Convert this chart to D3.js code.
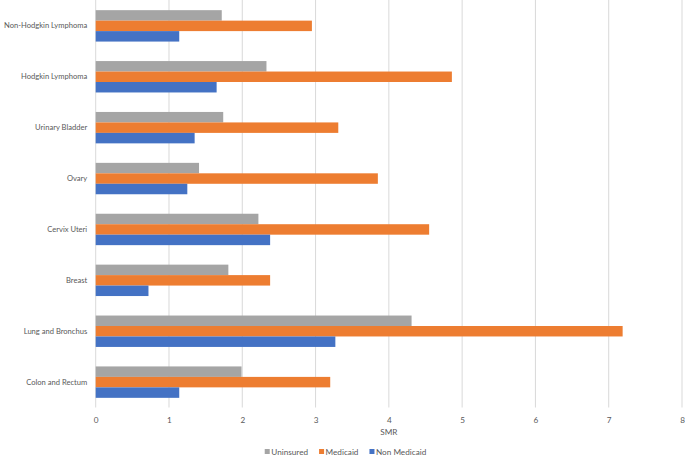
<!DOCTYPE html>
<html><head><meta charset="utf-8">
<script src="https://cdn.jsdelivr.net/npm/d3@7"></script>
<style>body{margin:0;background:#fff}svg{display:block}text{font-family:Lato,"Liberation Sans",Arial,sans-serif;fill:#595959}</style>
</head><body><svg id="c" width="685" height="456"></svg>
<script>
const categories = ["Non-Hodgkin Lymphoma","Hodgkin Lymphoma","Urinary Bladder","Ovary","Cervix Uteri","Breast","Lung and Bronchus","Colon and Rectum"];
const seriesNames = ["Uninsured","Medicaid","Non Medicaid"];
const uninsured = [1.72,2.33,1.74,1.41,2.22,1.81,4.31,1.99];
const medicaid = [2.95,4.86,3.31,3.85,4.55,2.38,7.19,3.20];
const nonMedicaid = [1.14,1.65,1.35,1.25,2.38,0.72,3.27,1.14];
const xTicks = [0,1,2,3,4,5,6,7,8];
const colors = ["#A5A5A5","#ED7D31","#4472C4"];

const FONT = 'Lato,"Liberation Sans",Arial,sans-serif';
const FS = "8.2px";
const values = [uninsured, medicaid, nonMedicaid];
const svg = d3.select("#c");
const mLeft = 95.7, mRight = 682, mTop = 0.5, mBottom = 407.5;
const x = d3.scaleLinear().domain([0,8]).range([mLeft,mRight]);
const y = d3.scaleBand().domain(categories).range([mTop,mBottom]).paddingInner(0.383).paddingOuter(0.19);
const ys = d3.scaleBand().domain(seriesNames).range([0,y.bandwidth()]);

svg.append("g").selectAll("line").data(xTicks).join("line")
  .attr("x1",d=>x(d)).attr("x2",d=>x(d)).attr("y1",0).attr("y2",mBottom)
  .attr("stroke","#d9d9d9").attr("stroke-width",1);

const g = svg.append("g");
seriesNames.forEach((s,si)=>{
  g.append("g").selectAll("rect").data(categories).join("rect")
    .attr("x",x(0)).attr("y",(c)=>y(c)+ys(s))
    .attr("width",(c,i)=>x(values[si][i])-x(0)).attr("height",ys.bandwidth())
    .attr("fill",colors[si]);
});

const xAxis = d3.axisBottom(x).tickValues(xTicks).tickSize(0).tickPadding(0);
const ax = svg.append("g").attr("transform",`translate(0,${mBottom+15})`).call(xAxis);
ax.select(".domain").remove();
ax.selectAll("text").attr("font-size",FS).attr("fill","#595959").attr("dy","0").style("font-family",FONT);

const yAxis = d3.axisLeft(y).tickSize(0).tickPadding(8.5);
const ay = svg.append("g").attr("transform",`translate(${mLeft},0)`).call(yAxis);
ay.select(".domain").remove();
const yTexts = ay.selectAll("text").attr("font-size",FS).attr("fill","#595959").style("font-family",FONT);
const maxW = d3.max(yTexts.nodes(), n => n.getComputedTextLength());
if (maxW > 83) yTexts.attr("font-size", (parseFloat(FS) * 83 / maxW) + "px");

svg.append("text").attr("x",(mLeft+mRight)/2).attr("y",435).attr("text-anchor","middle").attr("font-size",FS).text("SMR");

const leg = svg.append("g");
let cx = 0;
seriesNames.forEach((s,i)=>{
  const it = leg.append("g").attr("transform",`translate(${cx},0)`);
  it.append("rect").attr("x",0).attr("y",449).attr("width",5).attr("height",5).attr("fill",colors[i]);
  const t = it.append("text").attr("x",6.5).attr("y",455).attr("font-size",FS).text(s);
  cx += 6.5 + t.node().getComputedTextLength() + 11;
});
const legW = cx - 11;
leg.attr("transform",`translate(${345.5 - legW/2},0)`);
</script></body></html>
